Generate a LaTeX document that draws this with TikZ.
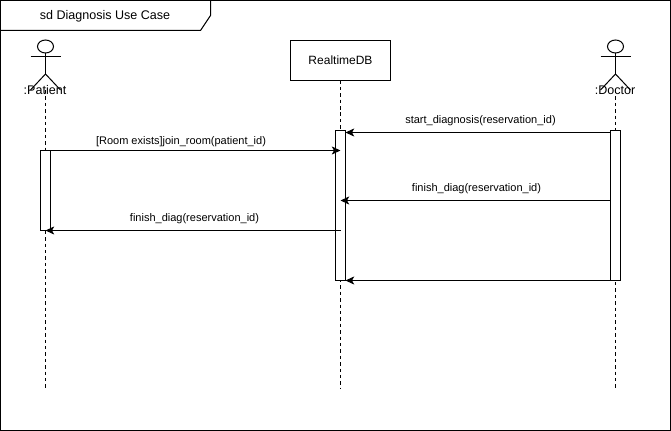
\documentclass[tikz,border=0pt]{standalone}
\usepackage{fontspec}
\setmainfont{Liberation Sans}
\usetikzlibrary{arrows.meta,shapes.geometric}

\begin{document}
\begin{tikzpicture}[
  x=0.75pt, y=-0.75pt,
  line width=0.75pt,
  every node/.style={font=\fontsize{8.25}{10}\selectfont, inner sep=0pt, outer sep=0pt},
  lifeobj/.style={draw, fill=white, minimum width=75pt, minimum height=30pt, font=\fontsize{9}{11}\selectfont},
  activation/.style={draw, fill=white, minimum width=7.5pt},
  actorhead/.style={draw, ellipse, minimum width=12pt, minimum height=9.75pt},
  lifeline/.style={dash pattern=on 2.6pt off 2.2pt},
  msg/.style={-{Stealth[length=6.5pt,width=6pt,inset=1.6pt]}},
  actorlabel/.style={font=\fontsize{9.4}{11}\selectfont},
  titlelabel/.style={font=\fontsize{9.4}{11}\selectfont}
]
\useasboundingbox (0,0) rectangle (671,431);
\node[draw, minimum width=502.5pt, minimum height=322.5pt, anchor=north west] (frame) at (0.5,0.5) {};
\draw (0.5,30.5) -- (200.5,30.5) -- (210.5,15.5) -- (210.5,0.5);
\node[titlelabel] (title) at (105,16) {sd Diagnosis Use Case};

% lifelines
\coordinate (patientEnd) at (45.5,388);
\coordinate (dbEnd) at (340.5,389);
\coordinate (doctorEnd) at (615.5,388);
\coordinate (patientTop) at (45.5,90);
\coordinate (doctorTop) at (615.5,90);
\node[lifeobj] (db) at (340.5,60.5) {RealtimeDB};
\draw[lifeline] (patientTop) -- (patientEnd);
\draw[lifeline] (db) -- (dbEnd);
\draw[lifeline] (doctorTop) -- (doctorEnd);

% actors
\foreach \nm/\xx in {patient/45.5,doctor/615.5}{
  \node[actorhead] (\nm Head) at (\xx,46.5) {};
  \draw (\nm Head.south) -- (\xx,74);
  \draw (\xx-15,57) -- (\xx+15,57);
  \draw (\xx-15,90) -- (\xx,74) -- (\xx+15,90);
}
\node[actorlabel] (patient) at (45,90) {:Patient};
\node[actorlabel] (doctor) at (615,90.5) {:Doctor};

% activations
\node[activation, minimum height=60pt, anchor=north] (patientBar) at (45.5,150.5) {};
\node[activation, minimum height=112.5pt, anchor=north] (dbBar) at (340.5,130.5) {};
\node[activation, minimum height=112.5pt, anchor=north] (doctorBar) at (615.5,130.5) {};

% messages
\coordinate (m1a) at (45.5,150.5);
\coordinate (m1b) at (340.5,150.5);
\coordinate (m2a) at (610.5,132.5);
\coordinate (m2b) at (345.5,132.5);
\coordinate (m3a) at (610.5,200.5);
\coordinate (m3b) at (340.5,200.5);
\coordinate (m4a) at (340.5,230.5);
\coordinate (m4b) at (45.5,230.5);
\coordinate (m5a) at (610.5,280.5);
\coordinate (m5b) at (345.5,280.5);
\draw[msg] (m1a) -- (m1b);
\draw[msg] (m2a) -- (m2b);
\draw[msg] (m3a) -- (m3b);
\draw[msg] (m4a) -- (m4b);
\draw[msg] (m5a) -- (m5b);

\node (join) at (181,141.5) {[Room exists]join\_room(patient\_id)};
\node (start) at (480.5,120.5) {start\_diagnosis(reservation\_id)};
\node (finishA) at (476.5,188.5) {finish\_diag(reservation\_id)};
\node (finishB) at (194.5,218.5) {finish\_diag(reservation\_id)};
\end{tikzpicture}
\end{document}
